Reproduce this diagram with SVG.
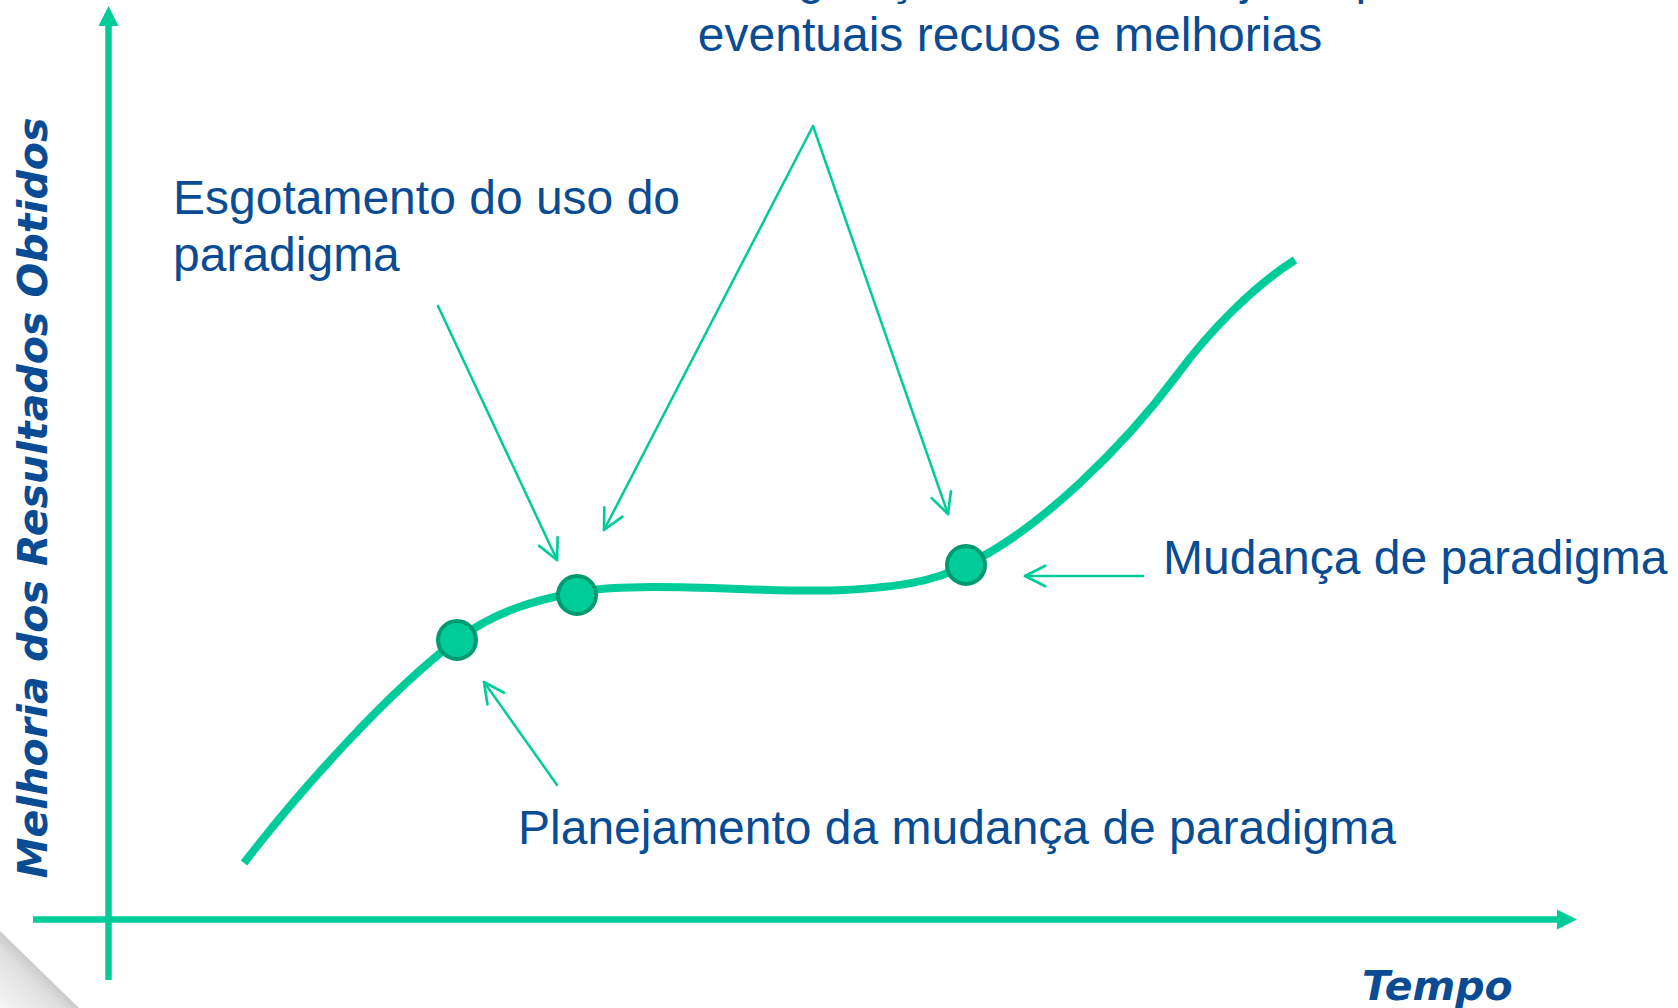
<svg xmlns="http://www.w3.org/2000/svg" width="1678" height="1008" viewBox="0 0 1678 1008">
  <style>
    .lbl { font-family: "Liberation Sans", Arial, sans-serif; font-size: 48px; fill: #0a4c93; }
    .axt { font-family: "DejaVu Sans", Verdana, sans-serif; font-size: 41px; font-weight: bold; font-style: italic; fill: #0a4c93; }
    .axis { stroke: #00cc99; stroke-width: 6.5; fill: none; }
    .conn { stroke: #00cc99; stroke-width: 2.5; fill: none; stroke-linecap: round; }
    .dot { fill: #00cc99; stroke: #009a70; stroke-width: 4; }
  </style>
  <defs>
    <marker id="v" markerUnits="userSpaceOnUse" markerWidth="30" markerHeight="30" viewBox="-24 -14 28 28" refX="0" refY="0" orient="auto" overflow="visible">
      <path d="M-19,-9.5 L0,0 L-19,9.5" fill="none" stroke="#00cc99" stroke-width="2.5" stroke-linecap="round" stroke-linejoin="round"/>
    </marker>
    <linearGradient id="curl" x1="0" y1="1" x2="0.5" y2="0.5">
      <stop offset="0" stop-color="#f6f6f6"/>
      <stop offset="0.75" stop-color="#e0e0e0"/>
      <stop offset="1" stop-color="#cacaca"/>
    </linearGradient>
  </defs>
  <rect width="1678" height="1008" fill="#ffffff"/>
  <g id="page-curl">
    <polygon points="0,931 79,1008 0,1008" fill="url(#curl)"/>
  </g>
  <g id="axes">
    <line class="axis" x1="108.5" y1="24" x2="108.5" y2="980"/>
    <polygon points="98.5,26 108.5,6 118.5,26" fill="#00cc99"/>
    <line class="axis" x1="33" y1="919.5" x2="1559" y2="919.5"/>
    <polygon points="1557,909.5 1577,919.5 1557,929.5" fill="#00cc99"/>
    <text class="axt" transform="translate(47,498) rotate(-90)" text-anchor="middle">Melhoria dos Resultados Obtidos</text>
    <text class="axt" x="1362" y="1000">Tempo</text>
  </g>
  <g id="curve">
    <path d="M244,863 C300,790 390,690 457,640 C497,610 537,600 577,592 C650,580 770,594 845,590 C895,587 931,583 966,565 C1040,530 1125,445 1177,375 C1210,330 1255,285 1295,260" fill="none" stroke="#00cc99" stroke-width="8"/>
  </g>
  <g id="node-planejamento">
    <circle class="dot" cx="457" cy="640" r="19"/>
  </g>
  <g id="node-esgotamento">
    <circle class="dot" cx="577" cy="595" r="19"/>
  </g>
  <g id="node-mudanca">
    <circle class="dot" cx="966" cy="565" r="19"/>
  </g>
  <g id="labels">
    <text class="lbl" x="1010" y="-6" text-anchor="middle">Fase de regulação, com novo ajuste para</text>
    <text class="lbl" x="1010" y="51" text-anchor="middle">eventuais recuos e melhorias</text>
    <text class="lbl" x="173" y="214">Esgotamento do uso do</text>
    <text class="lbl" x="173" y="271">paradigma</text>
    <text class="lbl" x="1163" y="574">Mudança de paradigma</text>
    <text class="lbl" x="518" y="844">Planejamento da mudança de paradigma</text>
  </g>
  <g id="connectors">
    <path class="conn" d="M438,306 L557,560" marker-end="url(#v)"/>
    <path class="conn" d="M813,126 L604,530" marker-end="url(#v)"/>
    <path class="conn" d="M813,126 L948,514" marker-end="url(#v)"/>
    <path class="conn" d="M557,785 L484,682" marker-end="url(#v)"/>
    <path class="conn" d="M1143,576 L1025,576" marker-end="url(#v)"/>
  </g>
</svg>
